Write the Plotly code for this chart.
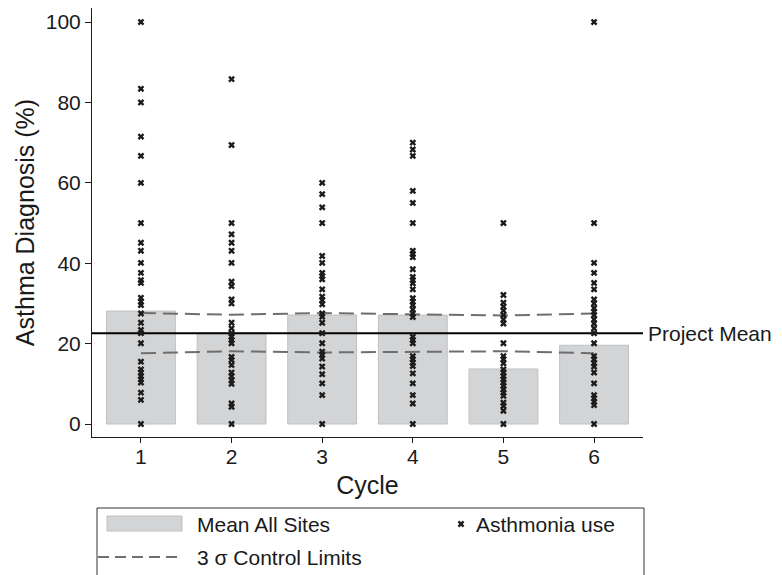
import plotly.graph_objects as go

# the page body adds an 8px margin, so the figure is drawn 8px smaller and
# all reference pixel positions are shifted by that offset
OFF = 8
W, H = 782 - OFF, 575 - OFF

cycles = [1, 2, 3, 4, 5, 6]
mean_all_sites = [28.1, 22.6, 27.1, 27.1, 13.7, 19.6]
ucl = [27.6, 27.2, 27.6, 27.3, 27.0, 27.5]
lcl = [17.6, 18.1, 17.8, 17.9, 18.1, 17.6]
project_mean = 22.6

site_c1 = [100, 83.4, 80, 71.5, 66.7, 60, 50, 45.1, 43.1, 40.1, 37.6, 35.8, 35.1, 31.4, 30.4,
           29.6, 27.5, 25.2, 23.4, 22.6, 20.1, 15.5, 13.6, 12.8, 11.9, 11.1, 10.3, 7.8, 6.0, 0]
site_c2 = [85.8, 69.4, 50, 47.2, 45.1, 43.1, 40.1, 35.4, 34.3, 31.0, 30.0, 25.2, 23.8, 22.6,
           21.7, 20.9, 20.1, 16.7, 15.9, 14.7, 12.8, 11.9, 10.9, 10.0, 5.1, 4.3, 0]
site_c3 = [60, 57.2, 53.9, 50, 41.8, 40.1, 37.6, 36.8, 36.0, 33.5, 31.7, 30.8, 29.8, 27.5, 26.7,
           25.2, 22.6, 20.1, 18.0, 17.2, 16.3, 14.3, 12.4, 10.1, 7.2, 0]
site_c4 = [70.0, 68.3, 66.7, 58.0, 55.0, 50, 43.1, 42.3, 41.5, 38.5, 36.6, 35.8, 35.0, 33.5,
           31.3, 30.4, 29.6, 28.5, 27.5, 26.6, 21.7, 20.9, 20.1, 16.9, 16.1, 15.3, 14.4, 12.6,
           10.1, 7.2, 5.1, 0]
site_c5 = [50, 32.1, 30.2, 29.2, 28.2, 27.1, 26.0, 25.0, 20.1, 16.9, 16.1, 15.1, 13.6, 12.8,
           11.9, 11.1, 10.3, 9.5, 8.6, 7.8, 7.0, 5.3, 4.5, 3.3, 0]
site_c6 = [100, 50, 40.1, 37.6, 35.1, 33.5, 31.0, 30.0, 28.8, 27.9, 27.1, 26.0, 25.0, 23.8,
           22.6, 20.1, 16.9, 16.1, 15.1, 14.3, 12.8, 10.1, 7.2, 6.4, 5.5, 4.7, 0]
site_values = [site_c1, site_c2, site_c3, site_c4, site_c5, site_c6]

y_ticks = [0, 20, 40, 60, 80, 100]
x_range = [0.46, 6.54]
y_range = [-3.23, 103.5]

FONT = "Liberation Sans, Arial, Helvetica, sans-serif"
FS = 21
TXT = "#1a1a1a"
BAR_FILL = "#d3d4d6"
BAR_LINE = "#c0c1c3"
DASH_COL = "#6e6e6e"
MARK_COL = "#1c1c1c"


def px(v):
    return v - OFF


fig = go.Figure()

fig.add_trace(go.Bar(x=cycles, y=mean_all_sites, width=0.76,
                     marker=dict(color=BAR_FILL, line=dict(color=BAR_LINE, width=1)),
                     name="Mean All Sites", xaxis="x", yaxis="y"))

fig.add_trace(go.Scatter(x=cycles, y=ucl, mode="lines",
                         line=dict(color=DASH_COL, width=2, dash="15px,7px"),
                         name="3 σ Control Limits", xaxis="x", yaxis="y"))
fig.add_trace(go.Scatter(x=cycles, y=lcl, mode="lines",
                         line=dict(color=DASH_COL, width=2, dash="15px,7px"),
                         showlegend=False, xaxis="x", yaxis="y"))

fig.add_trace(go.Scatter(x=x_range, y=[project_mean, project_mean], mode="lines",
                         line=dict(color="black", width=2), cliponaxis=False,
                         showlegend=False, xaxis="x", yaxis="y"))

xs, ys = [], []
for c, vals in zip(cycles, site_values):
    xs += [c] * len(vals)
    ys += vals
fig.add_trace(go.Scatter(x=xs, y=ys, mode="markers",
                         marker=dict(symbol="x", size=6, color=MARK_COL),
                         cliponaxis=False, name="Asthmonia use", xaxis="x", yaxis="y"))

# legend drawn in a pixel-coordinate overlay axis
fig.add_trace(go.Scatter(x=[px(461)], y=[px(524)], mode="markers",
                         marker=dict(symbol="x", size=6, color=MARK_COL),
                         cliponaxis=False, showlegend=False, hoverinfo="skip",
                         xaxis="x2", yaxis="y2"))

shapes = [
    dict(type="rect", xref="x2", yref="y2", x0=px(97), x1=px(644), y0=px(508), y1=px(600),
         line=dict(color="#333333", width=1), fillcolor="rgba(0,0,0,0)"),
    dict(type="rect", xref="x2", yref="y2", x0=px(107), x1=px(182), y0=px(516), y1=px(531),
         line=dict(color=BAR_LINE, width=1), fillcolor=BAR_FILL),
    dict(type="line", xref="x2", yref="y2", x0=px(98), x1=px(183), y0=px(557), y1=px(557),
         line=dict(color=DASH_COL, width=2, dash="11px,6px")),
]

annotations = [
    dict(text="Project Mean", xref="x domain", yref="y", x=1, y=project_mean,
         xanchor="left", yanchor="middle", xshift=3, showarrow=False,
         font=dict(family=FONT, size=FS, color=TXT)),
    dict(text="Mean All Sites", xref="x2", yref="y2", x=px(195), y=px(524),
         xanchor="left", yanchor="middle", showarrow=False,
         font=dict(family=FONT, size=FS, color=TXT)),
    dict(text="Asthmonia use", xref="x2", yref="y2", x=px(474), y=px(524),
         xanchor="left", yanchor="middle", showarrow=False,
         font=dict(family=FONT, size=FS, color=TXT)),
    dict(text="3 σ Control Limits", xref="x2", yref="y2", x=px(195), y=px(557),
         xanchor="left", yanchor="middle", showarrow=False,
         font=dict(family=FONT, size=FS, color=TXT)),
]

fig.update_layout(
    width=W, height=H,
    margin=dict(l=0, r=0, t=0, b=0),
    paper_bgcolor="white", plot_bgcolor="rgba(0,0,0,0)",
    showlegend=False, barmode="overlay",
    font=dict(family=FONT, size=FS, color=TXT),
    shapes=shapes, annotations=annotations,
    xaxis=dict(domain=[px(92) / W, px(643) / W], range=x_range, tickvals=cycles,
               ticks="outside", ticklen=5, tickcolor=TXT, showline=True,
               linecolor=TXT, linewidth=1, showgrid=False, zeroline=False,
               ticklabelstandoff=-4,
               title=dict(text="Cycle", standoff=9), automargin=False, anchor="y",
               tickfont=dict(size=FS)),
    yaxis=dict(domain=[(H - px(437)) / H, 1], range=y_range, tickvals=y_ticks,
               ticks="outside", ticklen=6, tickcolor=TXT, showline=True,
               linecolor=TXT, linewidth=1, showgrid=False, zeroline=False,
               title=dict(text="Asthma Diagnosis (%)", standoff=4), automargin=False,
               anchor="x", tickfont=dict(size=FS)),
    xaxis2=dict(domain=[0, 1], range=[0, W], visible=False, anchor="y2", fixedrange=True),
    yaxis2=dict(domain=[0, 1], range=[H, 0], visible=False, anchor="x2", fixedrange=True),
)

fig.write_html("out.html")
